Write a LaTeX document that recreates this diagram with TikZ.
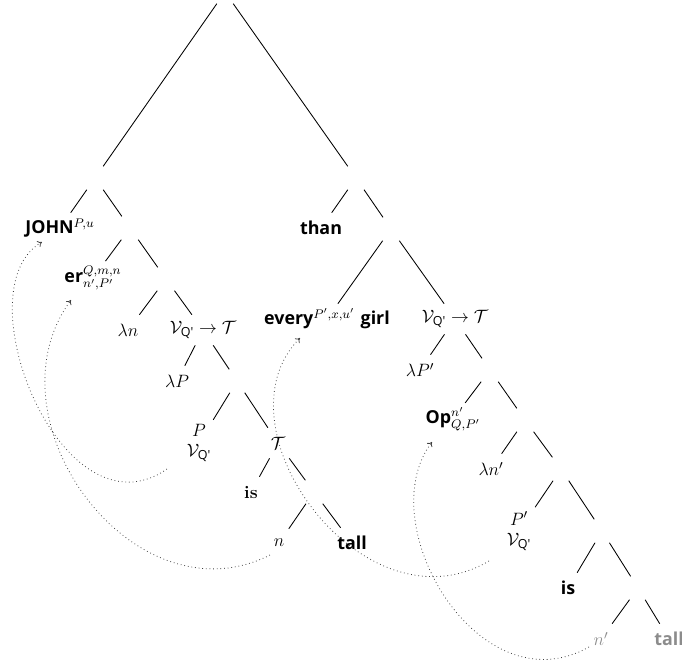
\RequirePackage{fix-cm}
\documentclass[tikz,border=0pt]{standalone}
\usepackage{amsmath}
\usepackage{fontspec}
\newfontfamily\osans{Open Sans}
\usetikzlibrary{arrows.meta}
\tikzset{
  brnode/.style={minimum width=14pt, minimum height=16pt, inner sep=0pt},
  lbl/.style={inner sep=3pt, minimum height=21pt, font=\fontsize{12.5}{14}\selectfont},
  branch/.style={line width=0.6pt},
  mv/.style={dotted, line width=0.55pt, black!75, -{To[length=3pt,width=4.6pt]}},
  trace/.style={black!45},
}
\newcommand{\wrd}[1]{{\osans\bfseries #1}}
\newcommand{\VQ}{\mathcal{V}_{\text{\osans Q'}}}
\newcommand{\VT}{$\VQ\to\mathcal{T}$}

\begin{document}
\begin{tikzpicture}[x=0.7pt, y=-0.7pt]
    \useasboundingbox (0,0) rectangle (682,666);
    % Top of the tree
    \node[brnode] (root) at (225,-8) {};
    \node[brnode] (l1) at (95,178) {};
    \node[brnode] (r1) at (356,178) {};
    % Left branch
    \node[lbl] (john) at (60,228) {\wrd{JOHN}$^{P,u}$};
    \node[brnode] (l2) at (130,228) {};
    \node[lbl] (er) at (93,278) {\wrd{er}$^{Q,m,n}_{n',P'}$};
    \node[brnode] (l3) at (166,279) {};
    \node[lbl] (lamn) at (128,330) {$\lambda n$};
    \node[lbl] (vt1) at (203,330) {\VT};
    \node[lbl] (lamp) at (177,381) {$\lambda P$};
    \node[brnode] (l4) at (237,381) {};
    \node[lbl, align=center] (pv1) at (199,443) {$P$\\$\VQ$};
    \node[lbl] (t1) at (278,443) {$\mathcal{T}$};
    \node[lbl] (is1) at (251,492) {\textbf{is}};
    \node[brnode] (l5) at (314,492) {};
    \node[lbl] (n1) at (279,543) {$n$};
    \node[lbl] (tall1) at (352,543) {\wrd{tall}};
    % Right branch
    \node[lbl] (than) at (321,228) {\wrd{than}};
    \node[brnode] (r2) at (391,229) {};
    \node[lbl] (every) at (327,319) {\wrd{every}$^{P',x,u'}$ \wrd{girl}};
    \node[lbl] (vt2) at (455,319) {\VT};
    \node[lbl] (lampp) at (420,370) {$\lambda P'$};
    \node[brnode] (r3) at (490,370) {};
    \node[lbl] (op) at (453,419) {\wrd{Op}$^{n'}_{Q,P'}$};
    \node[brnode] (r4) at (525,420) {};
    \node[lbl] (lamnp) at (491,469) {$\lambda n'$};
    \node[brnode] (r5) at (561,469) {};
    \node[lbl, align=center] (pv2) at (519,531) {$P'$\\$\VQ$};
    \node[brnode] (r6) at (602,531) {};
    \node[lbl] (is2) at (568,588) {\wrd{is}};
    \node[brnode] (r7) at (638,588) {};
    \node[lbl, trace] (np) at (601,639) {$n'$};
    \node[lbl, trace] (tall2) at (669,639) {\wrd{tall}};
    % Branches
    \draw[branch] (root) -- (l1) (root) -- (r1);
    \draw[branch] (l1) -- (john) (l1) -- (l2);
    \draw[branch] (l2) -- (er) (l2) -- (l3);
    \draw[branch] (l3) -- (lamn) (l3) -- (vt1);
    \draw[branch] (vt1) -- (lamp) (vt1) -- (l4);
    \draw[branch] (l4) -- (pv1) (l4) -- (t1);
    \draw[branch] (t1) -- (is1) (t1) -- (l5);
    \draw[branch] (l5) -- (n1) (l5) -- (tall1);
    \draw[branch] (r1) -- (than) (r1) -- (r2);
    \draw[branch] (r2) -- (every) (r2) -- (vt2);
    \draw[branch] (vt2) -- (lampp) (vt2) -- (r3);
    \draw[branch] (r3) -- (op) (r3) -- (r4);
    \draw[branch] (r4) -- (lamnp) (r4) -- (r5);
    \draw[branch] (r5) -- (pv2) (r5) -- (r6);
    \draw[branch] (r6) -- (is2) (r6) -- (r7);
    \draw[branch] (r7) -- (np) (r7) -- (tall2);
    % Movement
    \draw[mv] ([shift={(-32,26)}]pv1.center) .. controls +(-105,73) and +(-81,47) .. ([shift={(-18,14)}]john.center);
    \draw[mv] ([shift={(-9,12)}]n1.center) .. controls +(-137,69) and +(-87,119) .. ([shift={(-22,22)}]er.center);
    \draw[mv] ([shift={(-30,30)}]pv2.center) .. controls +(-126,74) and +(-88,89) .. ([shift={(-27,19)}]every.center);
    \draw[mv] ([shift={(-12,8)}]np.center) .. controls +(-110,62) and +(-62,82) .. ([shift={(-21,23)}]op.center);
\end{tikzpicture}
\end{document}
